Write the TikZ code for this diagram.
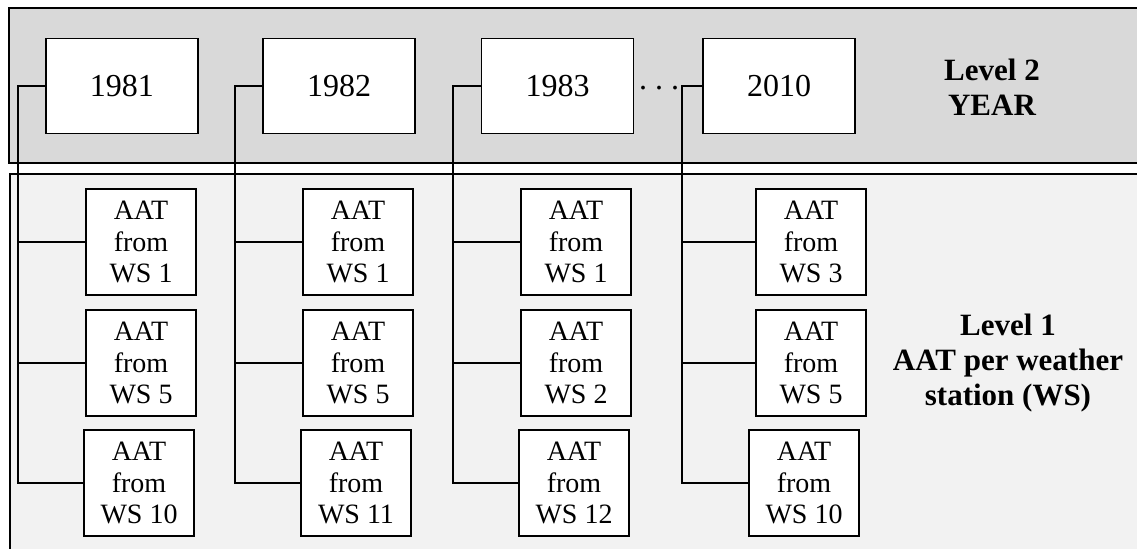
\documentclass[tikz,border=0pt]{standalone}
\usepackage{fontspec}
\setmainfont{Liberation Serif}
\usetikzlibrary{positioning}
\definecolor{lvTop}{RGB}{217,217,217}
\definecolor{lvBot}{RGB}{242,242,242}

\begin{document}
\begin{tikzpicture}[x=0.5pt,y=-0.5pt,line width=0.9pt,
  yearbox/.style={draw,fill=white,minimum width=76pt,minimum height=47.5pt,font=\fontsize{16}{19}\selectfont},
  wsbox/.style={draw,fill=white,minimum width=55pt,minimum height=53pt,inner sep=0pt,align=center,font=\fontsize{14}{15.8}\selectfont},
  lvltext/.style={align=center,font=\bfseries\fontsize{15.5}{17.5}\selectfont}]
  \useasboundingbox (0,0) rectangle (1137,548);

  % Level panels
  \draw[fill=lvTop] (9,8) rectangle (1141,163);
  \draw[fill=lvBot] (10,174) rectangle (1141,552);
  \node[lvltext] (lvtwo) at (992,87) {Level 2\\YEAR};
  \node[lvltext] (lvone) at (1008,363) {Level 1\\AAT per weather\\station (WS)};

  % Years
  \node[yearbox] (y1) at (122,86) {1981};
  \node[yearbox] (y2) at (339,86) {1982};
  \node[yearbox] (y3) at (557.5,86) {1983};
  \node[yearbox] (y4) at (779,86) {2010};
  \node[inner sep=0pt,font=\fontsize{16}{19}\selectfont] (dots) at (659,88) {.\hspace{4pt}.\hspace{4pt}.};

  % Weather stations
  \node[wsbox] (c11) at (141,242) {AAT\\from\\WS 1};
  \node[wsbox] (c12) at (141,363) {AAT\\from\\WS 5};
  \node[wsbox] (c13) at (139,483) {AAT\\from\\WS 10};
  \node[wsbox] (c21) at (358,242) {AAT\\from\\WS 1};
  \node[wsbox] (c22) at (358,363) {AAT\\from\\WS 5};
  \node[wsbox] (c23) at (356,483) {AAT\\from\\WS 11};
  \node[wsbox] (c31) at (576,242) {AAT\\from\\WS 1};
  \node[wsbox] (c32) at (576,363) {AAT\\from\\WS 2};
  \node[wsbox] (c33) at (574,483) {AAT\\from\\WS 12};
  \node[wsbox] (c41) at (811,242) {AAT\\from\\WS 3};
  \node[wsbox] (c42) at (811,363) {AAT\\from\\WS 5};
  \node[wsbox] (c43) at (804,483) {AAT\\from\\WS 10};

  % Trunks
  \coordinate (k1) at (18,86);
  \coordinate (k2) at (235,86);
  \coordinate (k3) at (453,86);
  \coordinate (k4) at (682,86);
  \draw (y1.west) -- (k1) |- (c13.west);
  \draw (k1 |- c11.west) -- (c11.west);
  \draw (k1 |- c12.west) -- (c12.west);
  \draw (y2.west) -- (k2) |- (c23.west);
  \draw (k2 |- c21.west) -- (c21.west);
  \draw (k2 |- c22.west) -- (c22.west);
  \draw (y3.west) -- (k3) |- (c33.west);
  \draw (k3 |- c31.west) -- (c31.west);
  \draw (k3 |- c32.west) -- (c32.west);
  \draw (y4.west) -- (k4) |- (c43.west);
  \draw (k4 |- c41.west) -- (c41.west);
  \draw (k4 |- c42.west) -- (c42.west);
\end{tikzpicture}
\end{document}
